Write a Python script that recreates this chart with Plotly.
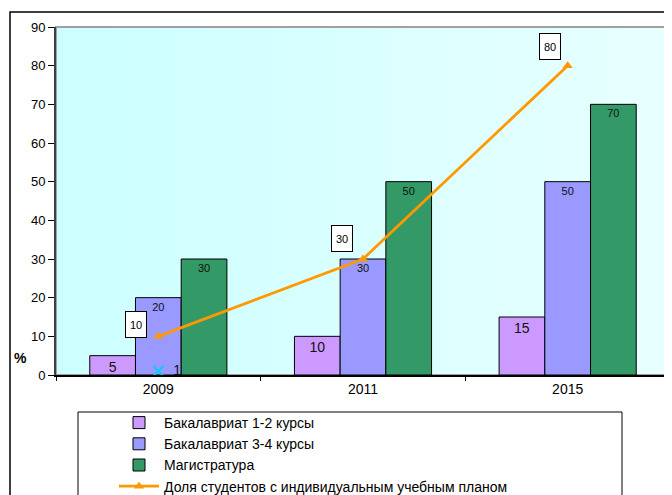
import plotly.graph_objects as go

years = ["2009", "2011", "2015"]
bach_12 = [5, 10, 15]
bach_34 = [20, 30, 50]
magistr = [30, 50, 70]
individual = [10, 30, 80]
extra_year = ["2009"]
extra_val = [1]

names = ["Бакалавриат 1-2 курсы", "Бакалавриат 3-4 курсы", "Магистратура",
         "Доля студентов с индивидуальным учебным планом"]
y_ticks = [0, 10, 20, 30, 40, 50, 60, 70, 80, 90]

# label box offsets (styling, pixels)
label_dx = [-22, -21, -18]
label_dy = [12, 21, 19]

FONT = "Liberation Sans, Arial, sans-serif"

fig = go.Figure()
bar_specs = [
    (bach_12, names[0], "#CC99FF", 14),
    (bach_34, names[1], "#9999FF", 11),
    (magistr, names[2], "#339966", 11),
]
for vals, nm, col, fs in bar_specs:
    fig.add_trace(go.Bar(
        x=years, y=vals, name=nm,
        marker=dict(color=col, line=dict(color="#000000", width=1)),
        text=[str(v) for v in vals], textposition="inside", textangle=0,
        insidetextanchor="end", constraintext="none",
        textfont=dict(family=FONT, size=fs, color="#111111"),
        hoverinfo="skip",
    ))

fig.add_trace(go.Scatter(
    x=years, y=individual, name=names[3], mode="lines+markers",
    line=dict(color="#FF9900", width=2.8),
    marker=dict(symbol="triangle-up", size=9, color="#FF9900"),
))

fig.add_trace(go.Scatter(
    x=extra_year, y=extra_val, mode="markers+text", showlegend=False,
    marker=dict(symbol="x-thin-open", size=10, color="#00CCFF",
                line=dict(color="#00CCFF", width=2)),
    text=["  " + str(v) for v in extra_val], textposition="middle right",
    textfont=dict(family=FONT, size=14, color="#111111"),
))

for i, v in enumerate(individual):
    fig.add_annotation(
        x=i, y=v, text=str(v), showarrow=False, xshift=label_dx[i], yshift=label_dy[i],
        font=dict(family=FONT, size=11, color="#000000"),
        width=16, height=21, borderpad=2,
        bgcolor="#FFFFFF", bordercolor="#000000", borderwidth=1,
    )

fig.add_annotation(
    xref="paper", yref="paper", x=(20 - 56) / 614, y=0.05, yanchor="middle", xanchor="center",
    text="<b>%</b>", showarrow=False,
    font=dict(family=FONT, size=14, color="#000000"),
)

shapes = []
n = 40
c0 = (204, 255, 255)
c1 = (232, 255, 255)
for i in range(n):
    t = i / (n - 1)
    col = "rgb(%d,%d,%d)" % tuple(round(a + (b - a) * t) for a, b in zip(c0, c1))
    shapes.append(dict(type="rect", xref="paper", yref="paper",
                       x0=i / n, x1=(i + 1) / n + 0.002, y0=0, y1=1,
                       fillcolor=col, line=dict(width=0), layer="below"))
shapes.append(dict(type="rect", xref="paper", yref="paper", x0=0, x1=1, y0=0, y1=1,
                   line=dict(color="#A0A0A0", width=2), layer="below"))
# outer chart frame
shapes.append(dict(type="rect", xref="paper", yref="paper",
                   x0=-0.0749, x1=1.2, y0=-0.6, y1=1.0431,
                   line=dict(color="#000000", width=1.5), layer="below"))
# legend frame
shapes.append(dict(type="rect", xref="paper", yref="paper",
                   x0=(78 - 56) / 614, x1=(622 - 56) / 614, y0=-0.6, y1=(375 - 412) / 348,
                   line=dict(color="#000000", width=1), layer="below"))

fig.update_layout(
    width=672, height=495,
    margin=dict(l=48, r=10, t=19, b=128, autoexpand=False),
    paper_bgcolor="#FFFFFF", plot_bgcolor="#DDFFFF",
    barmode="group", bargap=0.33, bargroupgap=0,
    font=dict(family=FONT, size=13, color="#000000"),
    shapes=shapes,
    showlegend=True,
    legend=dict(x=(114 - 56) / 614, y=(375 - 407) / 348, xanchor="left", yanchor="top",
                bgcolor="rgba(0,0,0,0)", borderwidth=0, itemwidth=40,
                font=dict(family=FONT, size=14, color="#000000"), tracegroupgap=0),
    xaxis=dict(type="category", categoryarray=years, range=[-0.5, 2.5],
               showline=True, linecolor="#000000", linewidth=1.5,
               ticks="outside", tickson="boundaries", ticklen=4, tickcolor="#000000",
               showgrid=False, tickfont=dict(family=FONT, size=14), fixedrange=True),
    yaxis=dict(range=[0, 90], tickvals=y_ticks, showline=True, linecolor="#404040",
               linewidth=2, ticks="outside", ticklen=6, tickcolor="#000000",
               showgrid=False, zeroline=False, tickfont=dict(family=FONT, size=13),
               fixedrange=True),
)

fig.write_html("out.html")
